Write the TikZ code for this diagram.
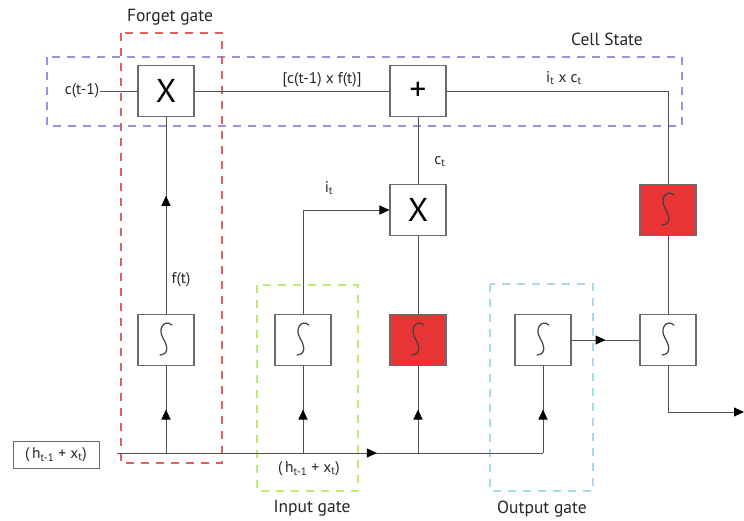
\documentclass[tikz,border=0pt]{standalone}
\usepackage{fontspec}
\setmainfont{PT Sans}
\usetikzlibrary{arrows.meta,decorations.markings}
\definecolor{boxline}{HTML}{6A6A6A}
\definecolor{wire}{HTML}{505050}
\definecolor{fgred}{HTML}{E06060}
\definecolor{cellblue}{HTML}{9C90E0}
\definecolor{ingreen}{HTML}{BDEB78}
\definecolor{outcyan}{HTML}{A6DCEA}
\definecolor{hotred}{HTML}{E83434}
\begin{document}
\begin{tikzpicture}[x=1pt,y=-1pt,
  lbl/.style={font=\fontsize{15.5}{17}\selectfont, text=black!85, inner sep=1pt},
  title/.style={font=\fontsize{17.5}{19}\selectfont, text=black!85, inner sep=1pt},
  opbox/.style={draw=boxline, line width=1.1pt, fill=white, minimum width=56pt, minimum height=51pt, inner sep=0pt, font=\fontsize{33}{33}\selectfont},
  sigshape/.style={path picture={
     \begin{scope}[shift={(path picture bounding box.center)}]
       \draw[line width=1.2pt, black!75, line cap=round] (6,-15) .. controls (-1,-21) and (-9,-12) .. (-3,-2) .. controls (1,5) and (4,14) .. (-6,15);
     \end{scope}}},
  sigbox/.style={opbox, sigshape},
  hotbox/.style={opbox, fill=hotred, sigshape},
  wireline/.style={draw=wire, line width=1pt},
  midarrow/.style={postaction={decorate}, decoration={markings, mark=at position #1 with {\arrow[black]{Triangle[length=10pt,width=9pt]}}}},
  gaterect/.style={dashed, dash pattern=on 8pt off 7pt, line width=1.1pt}
]
\useasboundingbox (0,0) rectangle (744,520);

% gate regions
\draw[gaterect, draw=cellblue] (47,57) rectangle (682,126);
\draw[gaterect, draw=fgred] (121,33) rectangle (222,463);
\draw[gaterect, draw=ingreen] (257,285) rectangle (358,491);
\draw[gaterect, draw=outcyan] (490,284) rectangle (593,491);

% titles
\node[title] (tforget) at (170,17) {Forget gate};
\node[title] (tcell) at (607,39) {Cell State};
\node[title] (tinput) at (312,508) {Input gate};
\node[title] (toutput) at (542,509) {Output gate};

% operation boxes
\node[opbox] (xf) at (166,91) {X};
\node[opbox] (plus) at (418,91) {+};
\node[opbox] (xi) at (418,210) {X};
\node[hotbox] (st) at (668,210) {};
\node[sigbox] (sf) at (166,340) {};
\node[sigbox] (si) at (303,340) {};
\node[hotbox] (sc) at (418,340) {};
\node[sigbox] (so) at (543,340) {};
\node[sigbox] (sh) at (668,340) {};

% input box
\node[draw=boxline, line width=1pt, minimum width=86pt, minimum height=27pt, inner sep=0pt, lbl] (hin) at (56,455) {(\,h\textsubscript{t-1} + x\textsubscript{t})};

% labels
\node[lbl] (cin) at (82,91) {c(t-1)};
\node[lbl] (lcf) at (322,80) {[c(t-1) x f(t)]};
\node[lbl] (lic) at (564,78) {i\textsubscript{t} x c\textsubscript{t}};
\node[lbl] (lct) at (440,162) {c\textsubscript{t}};
\node[lbl] (lit) at (329,188) {i\textsubscript{t}};
\node[lbl] (lft) at (181,280) {f(t)};
\node[lbl] (lhx) at (309,469) {(\,h\textsubscript{t-1} + x\textsubscript{t})};

% coordinates
\coordinate (bs) at (117,453);
\coordinate (be) at (so.south |- bs);
\coordinate (hout) at (744,412);

% cell state line
\draw[wireline] (cin.east) -- (xf.west);
\draw[wireline] (xf.east) -- (plus.west);
\draw[wireline] (plus.east) -| (st.north);
\draw[wireline] (st.south) -- (sh.north);
\draw[wireline, -{Triangle[length=10pt,width=9pt,black]}] (sh.south) |- (hout);

% inner connections
\draw[wireline] (plus.south) -- (xi.north);
\draw[wireline] (sc.north) -- (xi.south);
\draw[wireline, -{Triangle[length=10pt,width=9pt,black]}] (si.north) |- (xi.west);
\draw[wireline, midarrow=0.6] (sf.north) -- (xf.south);
\draw[wireline, midarrow=0.5] (so.east) -- (sh.west);

% bus
\draw[wireline, midarrow=0.61] (bs) -- (be);
\draw[wireline, midarrow=0.5] (sf.south |- bs) -- (sf.south);
\draw[wireline, midarrow=0.5] (si.south |- bs) -- (si.south);
\draw[wireline, midarrow=0.5] (sc.south |- bs) -- (sc.south);
\draw[wireline, midarrow=0.5] (be) -- (so.south);
\end{tikzpicture}
\end{document}
